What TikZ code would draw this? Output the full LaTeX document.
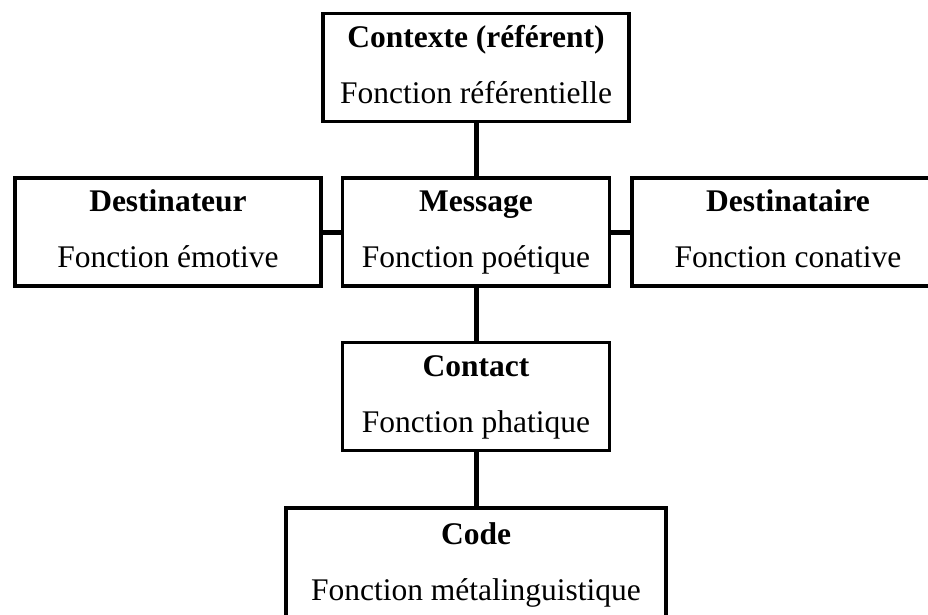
\documentclass[tikz,border=0pt]{standalone}
\usepackage{fontspec}
\setmainfont{Liberation Serif}
\usetikzlibrary{positioning}

% same height and depth for every line of text
\newcommand{\ligne}{\rule[-8pt]{0pt}{31pt}}

\begin{document}
\begin{tikzpicture}[
         fonction/.style = {draw, line width=3.5pt, align=center,
         minimum height=108pt, inner sep=0pt,
         font=\fontsize{31.5}{56}\selectfont},
         lien/.style = {line width=5pt}
]
   \useasboundingbox (0,0) rectangle (928pt,-614pt);
   \clip (0,0) rectangle (928pt,-614pt);

   % message au centre
   \node[fonction, minimum width=267pt] at (476pt,-232pt) (message)
      {\ligne\textbf{Message}\\\ligne Fonction poétique};

   % les autres fonctions
   \node[fonction, minimum width=306pt, above=53pt of message] (contexte)
      {\ligne\textbf{Contexte (référent)}\\\ligne Fonction référentielle};
   \node[fonction, minimum width=306pt, left=18pt of message]  (destinateur)
      {\ligne\textbf{Destinateur}\\\ligne Fonction émotive};
   \node[fonction, minimum width=312pt, right=19pt of message] (destinataire)
      {\ligne\textbf{Destinataire}\\\ligne Fonction conative};
   \node[fonction, minimum width=267pt, below=53pt of message] (contact)
      {\ligne\textbf{Contact}\\\ligne Fonction phatique};
   \node[fonction, minimum width=380pt, minimum height=114pt,
      below=54pt of contact] (code)
      {\ligne\textbf{Code}\\\ligne Fonction métalinguistique};

   % liens
   \draw[lien] (contexte) -- (message);
   \draw[lien] (destinateur) -- (message);
   \draw[lien] (message) -- (destinataire);
   \draw[lien] (message) -- (contact);
   \draw[lien] (contact) -- (code);
\end{tikzpicture}
\end{document}
